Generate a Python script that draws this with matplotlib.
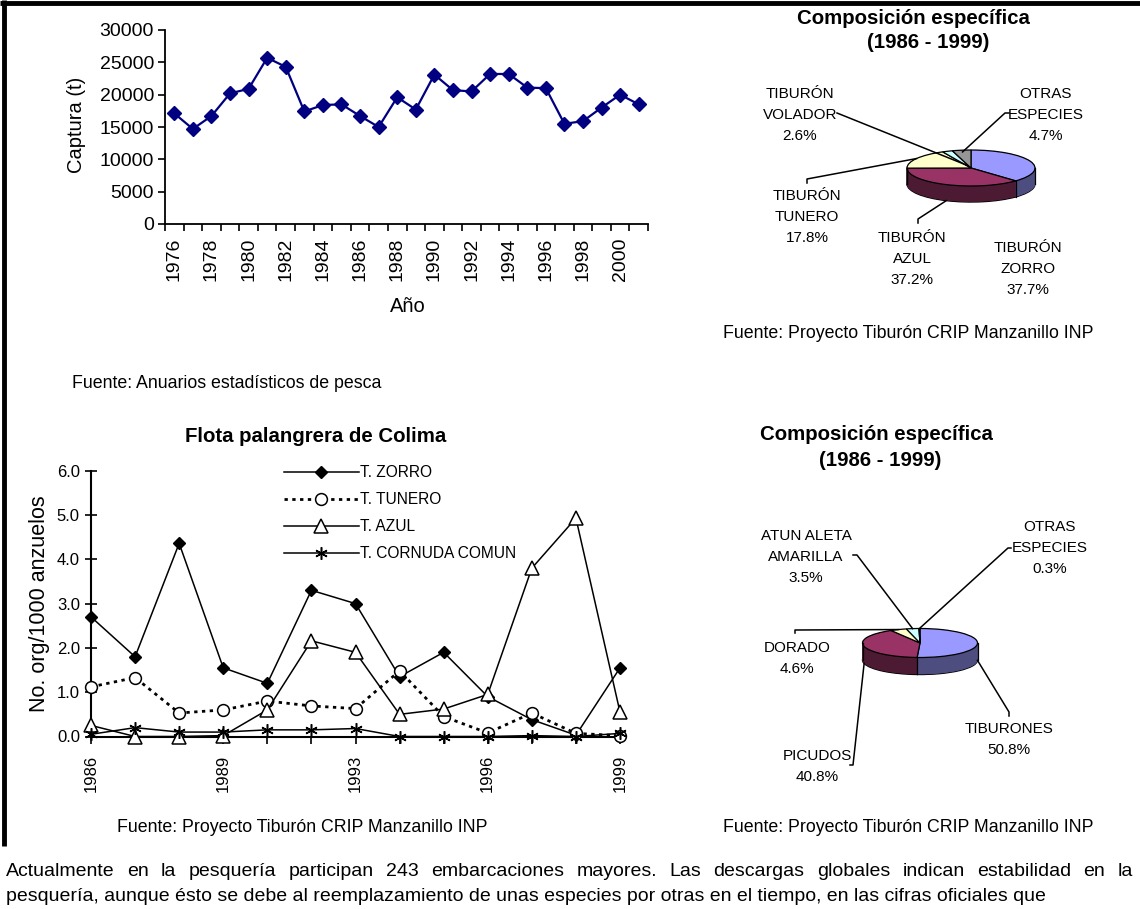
import numpy as np
import matplotlib
matplotlib.use('Agg')
import matplotlib.pyplot as plt
from matplotlib import font_manager
from matplotlib.colors import to_rgb

W, H = 1140, 909
plt.rcParams['font.family'] = ['Liberation Sans', 'DejaVu Sans']

# ---------------- data ----------------
captura_years = [str(y) for y in range(1976, 2002)]
captura = [17100, 14700, 16700, 20200, 20900, 25700, 24300, 17400, 18400, 18500,
           16700, 15000, 19600, 17700, 23100, 20700, 20500, 23200, 23200, 21100,
           21000, 15500, 15900, 18000, 20000, 18500]

cpue_years = ['1986', '1987', '1988', '1989', '1990', '1991', '1993',
              '1994', '1995', '1996', '1997', '1998', '1999']
t_zorro = [2.70, 1.80, 4.36, 1.55, 1.20, 3.30, 3.00, 1.35, 1.90, 0.90, 0.38, 0.03, 1.55]
t_tunero = [1.12, 1.33, 0.53, 0.60, 0.80, 0.69, 0.63, 1.48, 0.45, 0.08, 0.53, 0.07, 0.02]
t_azul = [0.25, 0.00, 0.00, 0.02, 0.60, 2.16, 1.90, 0.50, 0.62, 0.95, 3.80, 4.93, 0.55]
t_cornuda = [0.05, 0.20, 0.10, 0.10, 0.15, 0.15, 0.18, 0.00, 0.00, 0.00, 0.02, 0.00, 0.07]
cpue_names = ['T. ZORRO', 'T. TUNERO', 'T. AZUL', 'T. CORNUDA COMUN']

pie1_names = [['TIBURÓN', 'ZORRO'], ['TIBURÓN', 'AZUL'], ['TIBURÓN', 'TUNERO'],
              ['TIBURÓN', 'VOLADOR'], ['OTRAS', 'ESPECIES']]
pie1_values = [37.7, 37.2, 17.8, 2.6, 4.7]
pie2_names = [['TIBURONES'], ['PICUDOS'], ['DORADO'], ['ATUN ALETA', 'AMARILLA'],
              ['OTRAS', 'ESPECIES']]
pie2_values = [50.8, 40.8, 4.6, 3.5, 0.3]
pie_colors = ['#9999FF', '#993366', '#FFFFCC', '#CCFFFF', '#969696']

pie_title = ['Composición específica', '(1986 - 1999)']
fuente_inp = 'Fuente: Proyecto Tiburón CRIP Manzanillo INP'
fuente_anuarios = 'Fuente: Anuarios estadísticos de pesca'
para1 = ('Actualmente en la pesquería participan 243 embarcaciones mayores. '
         'Las descargas globales indican estabilidad en la')
para2 = ('pesquería, aunque ésto se debe al reemplazamiento de unas especies por '
         'otras en el tiempo, en las cifras oficiales que')

# ---------------- figure ----------------
fig = plt.figure(figsize=(W / 100, H / 100), dpi=100)


def rect(x0, y0, x1, y1):
    return [x0 / W, 1 - y1 / H, (x1 - x0) / W, (y1 - y0) / H]


page = fig.add_axes([0, 0, 1, 1], zorder=0)
page.set_xlim(0, W)
page.set_ylim(H, 0)
page.axis('off')

over = fig.add_axes([0, 0, 1, 1], zorder=10)
over.set_xlim(0, W)
over.set_ylim(H, 0)
over.axis('off')
over.patch.set_alpha(0)

# frame lines
page.plot([0, W], [2.5, 2.5], color='black', lw=3.5, solid_capstyle='butt')
page.plot([4, 4], [0, 846], color='black', lw=3.5, solid_capstyle='butt')

# ---------------- top-left line chart ----------------
ax1 = fig.add_axes(rect(165, 30, 648, 224))
x1 = np.arange(len(captura))
ax1.plot(x1, captura, color='#000080', lw=1.6, marker='D', ms=6.8,
         mfc='#000080', mec='#000080', clip_on=False, zorder=3)
ax1.set_xlim(-0.5, len(captura) - 0.5)
ax1.set_ylim(0, 30000)
ax1.set_yticks(np.arange(0, 30001, 5000))
ax1.set_xticks(x1[::2])
ax1.set_xticklabels(captura_years[::2], rotation=90)
ax1.set_xticks(np.arange(-0.5, len(captura), 1), minor=True)
ax1.tick_params(axis='x', which='major', length=0, pad=10, labelsize=14)
ax1.tick_params(axis='x', which='minor', length=5, direction='out', width=1.2)
ax1.tick_params(axis='y', length=5, direction='out', width=1.2, labelsize=14, pad=3)
for s in ['top', 'right']:
    ax1.spines[s].set_visible(False)
for s in ['left', 'bottom']:
    ax1.spines[s].set_linewidth(1.3)
ax1.patch.set_alpha(0)
page.text(76, 125, 'Captura (t)', rotation=90, ha='center', va='center', fontsize=14.5)
page.text(408, 307, 'Año', ha='center', va='center', fontsize=14.5)
page.text(72, 383, fuente_anuarios, ha='left', va='center', fontsize=12.8)

# ---------------- bottom-left CPUE chart ----------------
ax2 = fig.add_axes(rect(91, 470.7, 620, 736.5))
x2 = np.arange(len(cpue_years))
l1, = ax2.plot(x2, t_zorro, color='black', lw=1.1, marker='D', ms=6.5,
               mfc='black', mec='black', clip_on=False, zorder=3)
l2, = ax2.plot(x2, t_tunero, color='black', lw=2.0, linestyle=(0, (1.2, 1.6)),
               marker='o', ms=8.5, mfc='white', mec='black', mew=1.1,
               clip_on=False, zorder=3)
l3, = ax2.plot(x2, t_azul, color='black', lw=1.1, marker='^', ms=9.5,
               mfc='white', mec='black', mew=1.1, clip_on=False, zorder=3)
l4, = ax2.plot(x2, t_cornuda, color='black', lw=1.1, marker=(6, 2, 0), ms=9,
               mec='black', mew=1.1, clip_on=False, zorder=3)
ax2.set_xlim(0, len(cpue_years) - 1)
ax2.set_ylim(0, 6)
ax2.set_yticks(np.arange(0, 6.01, 1.0))
ax2.set_yticklabels(['%.1f' % v for v in np.arange(0, 6.01, 1.0)])
ax2.set_xticks(x2)
ax2.set_xticklabels([y if i % 3 == 0 else '' for i, y in enumerate(cpue_years)],
                    rotation=90)
ax2.tick_params(axis='x', length=5, direction='out', width=1.2, labelsize=12, pad=8)
ax2.tick_params(axis='y', length=8, direction='inout', width=1.2, labelsize=12, pad=4)
for s in ['top', 'right']:
    ax2.spines[s].set_visible(False)
for s in ['left', 'bottom']:
    ax2.spines[s].set_linewidth(1.5)
ax2.patch.set_alpha(0)
ax2.legend([l1, l2, l3, l4], cpue_names, loc='upper left',
           bbox_to_anchor=(284 / W, 1 - 465 / H), bbox_transform=fig.transFigure,
           frameon=False, fontsize=11.2, handlelength=4.8, handletextpad=0.1,
           labelspacing=0.78, borderpad=0, borderaxespad=0, numpoints=1)
page.text(40, 604, 'No. org/1000 anzuelos', rotation=90, ha='center', va='center',
          fontsize=15.5)
page.text(316, 436, 'Flota palangrera de Colima', ha='center', va='center',
          fontsize=14.7, fontweight='bold')
page.text(302, 828, fuente_inp, ha='center', va='center', fontsize=12.8)


# ---------------- 3D pies ----------------
def darker(c, f=0.5):
    r, g, b = to_rgb(c)
    return (r * f, g * f, b * f)


def pie3d(cx, cy, a, b, depth, values, colors, hw=120, hh=60):
    ax = fig.add_axes(rect(cx - hw, cy - hh, cx + hw, cy + hh), zorder=5)
    d = depth / b
    sides = [darker(c) for c in colors]
    n = 30
    for k in range(n, 0, -1):
        ws, _ = ax.pie(values, colors=sides, startangle=90, counterclock=False,
                       center=(0, -d * k / n), radius=1)
        for w in ws:
            if k == n:
                w.set_edgecolor('black')
                w.set_linewidth(1.0)
            else:
                w.set_edgecolor(w.get_facecolor())
                w.set_linewidth(0.6)
    ax.pie(values, colors=colors, startangle=90, counterclock=False,
           center=(0, 0), radius=1,
           wedgeprops=dict(edgecolor='black', linewidth=0.9))
    bounds = np.cumsum([0] + list(values)) / sum(values) * 2 * np.pi
    for t in list(bounds[:-1]) + [np.pi / 2, 3 * np.pi / 2]:
        if np.cos(t) <= 1e-9:
            ax.plot([np.sin(t)] * 2, [np.cos(t), np.cos(t) - d], color='black',
                    lw=0.9, zorder=5)
    ax.set_aspect('auto')
    ax.set_xlim(-hw / a, hw / a)
    ax.set_ylim(-hh / b, hh / b)
    ax.set_axis_off()
    ax.patch.set_alpha(0)
    return ax, d


def pie_point(ax, d, values, idx, r, bottom):
    frac = (sum(values[:idx]) + values[idx] / 2) / sum(values)
    t = frac * 2 * np.pi
    x, y = r * np.sin(t), r * np.cos(t) - (d if bottom else 0)
    dx, dy = ax.transData.transform((x, y))
    return dx, H - dy


def pie_labels(ax, d, values, names, pos, leaders, targets):
    for i, (nm, v) in enumerate(zip(names, values)):
        lines = list(nm) + ['%.1f%%' % v]
        x0, y0 = pos[i]
        for j, ln in enumerate(lines):
            over.text(x0, y0 + 21 * j, ln, ha='center', va='center', fontsize=11)
        if leaders[i] is not None:
            tx, ty = pie_point(ax, d, values, i, *targets[i])
            pts = list(leaders[i]) + [(tx, ty)]
            over.plot([p[0] for p in pts], [p[1] for p in pts], color='black', lw=1.1)


# top pie
axp1, d1 = pie3d(971, 168, 64, 18, 16, pie1_values, pie_colors)
pie_labels(axp1, d1, pie1_values, pie1_names,
           pos=[(1028, 248), (912, 238), (807, 196), (800, 94), (1046, 94)],
           leaders=[None, [(918, 223), (918, 219)], [(807, 183), (807, 179)],
                    [(837, 113)], [(1009, 113), (1005, 113)]],
           targets=[None, (1.0, True), (1.0, False), (0.15, False), (0.9, False)])
over.text(913, 18, pie_title[0], ha='center', va='center', fontsize=14.7, fontweight='bold')
over.text(928, 43, pie_title[1], ha='center', va='center', fontsize=14.7, fontweight='bold')
page.text(908, 333, fuente_inp, ha='center', va='center', fontsize=12.8)

# bottom pie
axp2, d2 = pie3d(920, 643, 57.5, 14.5, 17, pie2_values, pie_colors)
pie_labels(axp2, d2, pie2_values, pie2_names,
           pos=[(1009, 729), (817, 756), (797, 648), (806, 536), (1050, 527)],
           leaders=[[(1009, 716), (1009, 712)], [(850, 765), (853, 765)],
                    [(795, 633), (795, 630)], [(853, 555), (857, 555)],
                    [(1011, 548), (1008, 548)]],
           targets=[(1.0, True), (1.0, True), (1.0, False), (1.0, False), (1.0, False)])
over.text(876, 435, pie_title[0], ha='center', va='center', fontsize=14.7, fontweight='bold')
over.text(880, 460, pie_title[1], ha='center', va='center', fontsize=14.7, fontweight='bold')
page.text(908, 828, fuente_inp, ha='center', va='center', fontsize=12.8)

# ---------------- paragraph ----------------
names_avail = {f.name for f in font_manager.fontManager.ttflist}
para_family = ['Liberation Sans Narrow'] if 'Liberation Sans Narrow' in names_avail else ['Liberation Sans']
renderer = fig.canvas.get_renderer()
probe = page.text(0, 0, para2, fontsize=12, family=para_family)
wprobe = probe.get_window_extent(renderer).width
probe.remove()
fs = 12 * 1037 / wprobe

words = para1.split(' ')
widths = []
for wd in words:
    t = page.text(0, 0, wd, fontsize=fs, family=para_family)
    widths.append(t.get_window_extent(renderer).width)
    t.remove()
gap = (1133 - 6 - sum(widths)) / (len(words) - 1)
xpos = 6
for wd, wdt in zip(words, widths):
    page.text(xpos, 876, wd, ha='left', va='baseline', fontsize=fs, family=para_family)
    xpos += wdt + gap
page.text(6, 901, para2, ha='left', va='baseline', fontsize=fs, family=para_family)

fig.savefig('out.png', dpi=100)
